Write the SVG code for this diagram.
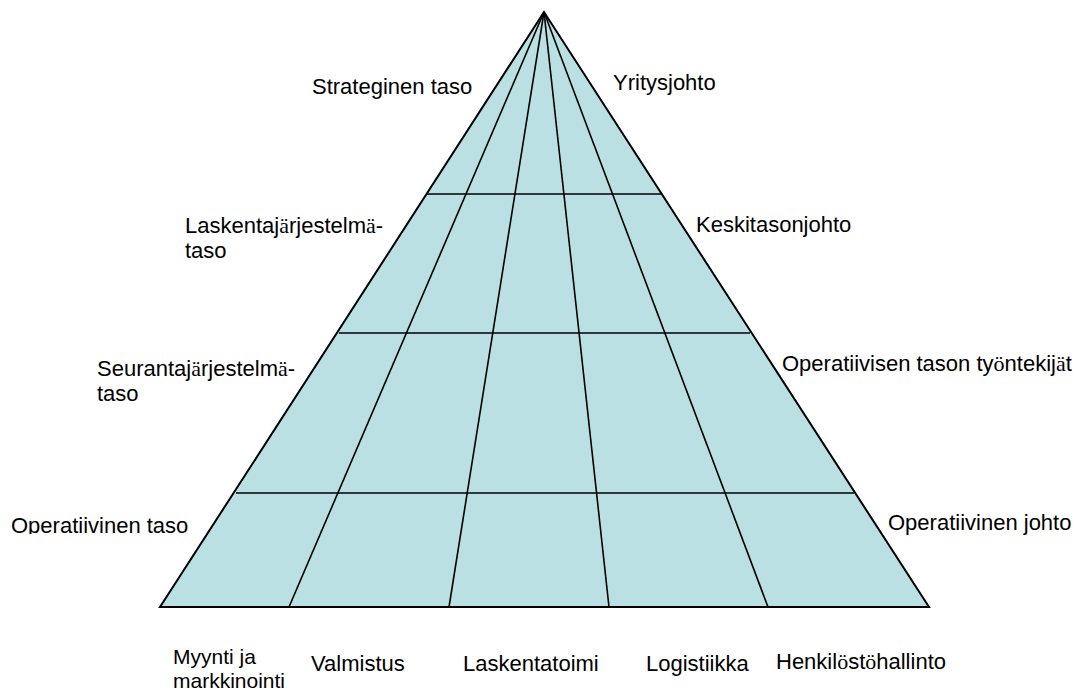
<svg xmlns="http://www.w3.org/2000/svg" width="1090" height="693" viewBox="0 0 1090 693">
  <style>
    text { font-family: "Liberation Sans", Arial, sans-serif; font-size: 22px; fill: #000; }
    .acc { font-family: "Liberation Serif", "Times New Roman", serif; }
    .small { font-size: 21px; }
    .body { fill: #BBE0E3; stroke: #000; stroke-width: 2; }
    .grid { stroke: #000; stroke-width: 1.6; fill: none; }
  </style>
  <defs>
    <clipPath id="clipOpTaso"><rect x="0" y="500" width="220" height="34"/></clipPath>
  </defs>

  <!-- pyramid body -->
  <g id="pyramid">
    <polygon class="body" points="544,12 160,607 929,607"/>
  </g>

  <!-- level lines and department dividers -->
  <g id="connectors">
    <line class="grid" x1="427" y1="194" x2="661" y2="194"/>
    <line class="grid" x1="339" y1="333" x2="750" y2="333"/>
    <line class="grid" x1="236" y1="493" x2="854" y2="493"/>
    <line class="grid" x1="544" y1="12" x2="289" y2="607"/>
    <line class="grid" x1="544" y1="12" x2="449" y2="607"/>
    <line class="grid" x1="544" y1="12" x2="609" y2="607"/>
    <line class="grid" x1="544" y1="12" x2="768" y2="607"/>
  </g>

  <!-- level labels, left side -->
  <g id="strateginen"><text x="312" y="94">Strateginen taso</text></g>
  <g id="laskentajarjestelma"><text x="185" y="233">Laskentaj<tspan class="acc">ä</tspan>rjestelm<tspan class="acc">ä</tspan>-</text><text x="185" y="258">taso</text></g>
  <g id="seurantajarjestelma"><text x="97" y="376">Seurantaj<tspan class="acc">ä</tspan>rjestelm<tspan class="acc">ä</tspan>-</text><text x="97" y="401">taso</text></g>
  <g id="operatiivinen-taso"><text x="11" y="533" clip-path="url(#clipOpTaso)">Operatiivinen taso</text></g>

  <!-- staff labels, right side -->
  <g id="yritysjohto"><text x="613" y="90">Yritysjohto</text></g>
  <g id="keskitasonjohto"><text x="696" y="232">Keskitasonjohto</text></g>
  <g id="tyontekijat"><text x="782" y="371">Operatiivisen tason ty<tspan class="acc">ö</tspan>ntekij<tspan class="acc">ä</tspan>t</text></g>
  <g id="operatiivinen-johto"><text x="888" y="530">Operatiivinen johto</text></g>

  <!-- department labels -->
  <g id="myynti"><text class="small" x="173" y="664">Myynti ja</text><text class="small" x="173" y="688">markkinointi</text></g>
  <g id="valmistus"><text x="311" y="671">Valmistus</text></g>
  <g id="laskentatoimi"><text x="463" y="671">Laskentatoimi</text></g>
  <g id="logistiikka"><text x="646" y="671">Logistiikka</text></g>
  <g id="henkilosto"><text x="776" y="669">Henkil<tspan class="acc">ö</tspan>st<tspan class="acc">ö</tspan>hallinto</text></g>
</svg>
